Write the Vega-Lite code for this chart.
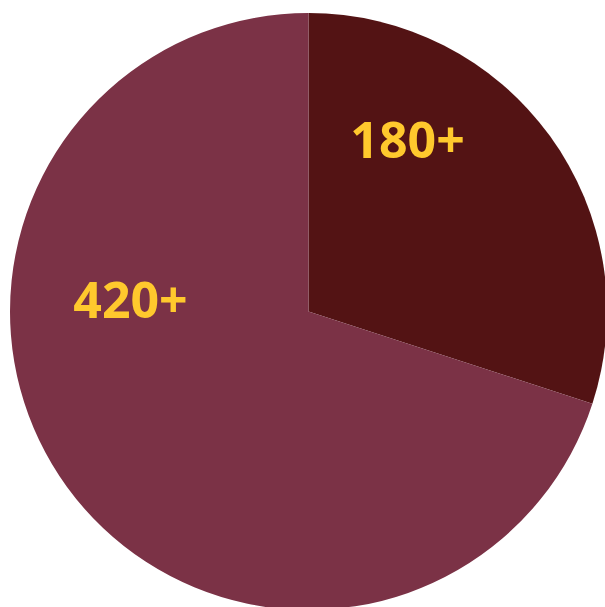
{
  "$schema": "https://vega.github.io/schema/vega-lite/v6.json",
  "width": 597,
  "height": 597,
  "autosize": {"type": "none"},
  "padding": {"left": 10, "top": 13, "right": 0, "bottom": 0},
  "background": "#ffffff",
  "view": {"stroke": null},
  "data": {
    "values": [
      {"label": "180+", "value": 180},
      {"label": "420+", "value": 420}
    ]
  },
  "encoding": {
    "theta": {"field": "value", "type": "quantitative", "stack": true},
    "order": {"field": "label", "type": "nominal", "sort": "ascending"}
  },
  "layer": [
    {
      "mark": {"type": "arc", "stroke": null},
      "encoding": {
        "color": {
          "field": "label",
          "type": "nominal",
          "scale": {"domain": ["180+", "420+"], "range": ["#531314", "#7B3246"]},
          "legend": null
        }
      }
    },
    {
      "mark": {"type": "text", "radius": 170, "dx": -38.5, "dy": -53.5, "font": "Open Sans", "fontWeight": "bold", "fontSize": 50, "align": "center", "baseline": "alphabetic", "color": "#FFC92D"},
      "encoding": {
        "text": {"condition": {"test": "datum.label == '180+'", "field": "label"}, "value": ""}
      }
    },
    {
      "mark": {"type": "text", "radius": 148, "dx": -58.3, "dy": -80.5, "font": "Open Sans", "fontWeight": "bold", "fontSize": 50, "align": "center", "baseline": "alphabetic", "color": "#FFC92D"},
      "encoding": {
        "text": {"condition": {"test": "datum.label == '420+'", "field": "label"}, "value": ""}
      }
    }
  ]
}
